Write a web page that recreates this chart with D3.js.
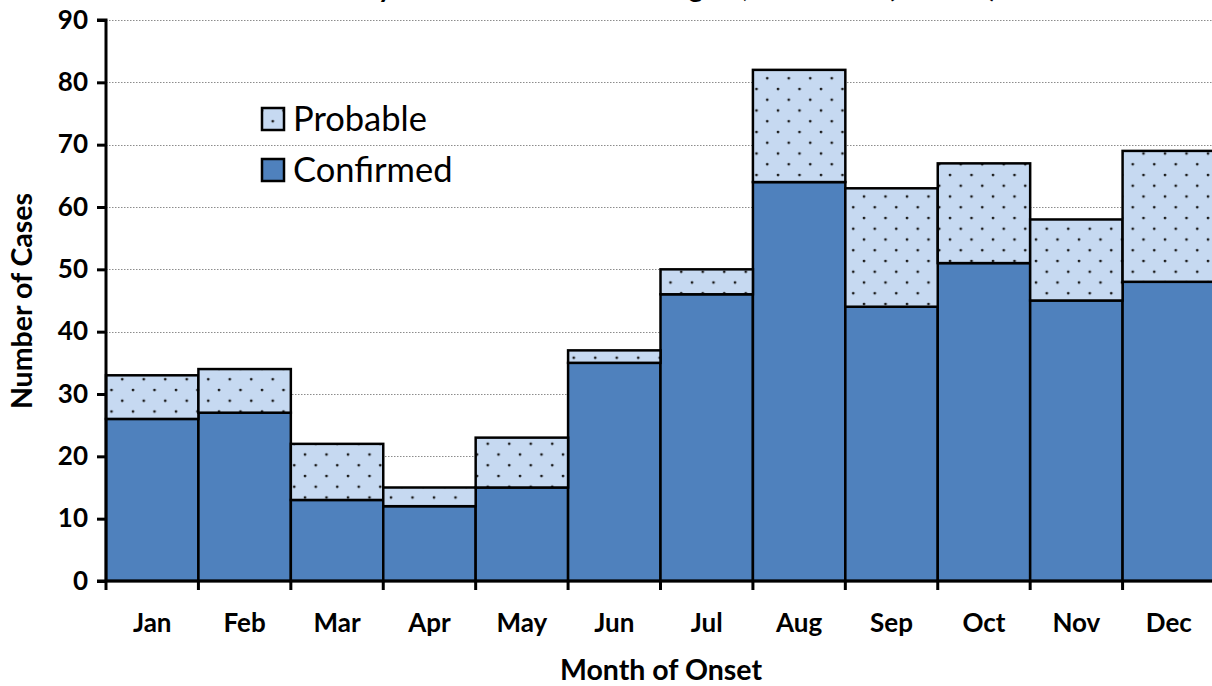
<!DOCTYPE html>
<html>
<head>
<meta charset="utf-8">
<script src="https://cdn.jsdelivr.net/npm/d3@7"></script>
<style>
  html, body { margin: 0; padding: 0; background: #fff; }
  svg { display: block; }
  text { font-family: Lato, "Liberation Sans", sans-serif; }
</style>
</head>
<body>
<svg id="chart" width="1212" height="686"></svg>
<script>
const months = ["Jan","Feb","Mar","Apr","May","Jun","Jul","Aug","Sep","Oct","Nov","Dec"];
const confirmed = [26, 27, 13, 12, 15, 35, 46, 64, 44, 51, 45, 48];
const probable  = [7, 7, 9, 3, 8, 2, 4, 18, 19, 16, 13, 21];
const yTicks = [0, 10, 20, 30, 40, 50, 60, 70, 80, 90];
const seriesNames = ["Probable", "Confirmed"];
const titleText = "Cases by Month of Onset and Region, Statewide (n = 553)";
const xTitle = "Month of Onset";
const yTitle = "Number of Cases";

const svg = d3.select("#chart");
const margin = { left: 106, right: -3, top: 20, bottom: 105 };
const W = 1212, H = 686;
const x0 = margin.left, x1 = W - margin.right;
const y0 = H - margin.bottom, y1 = margin.top;

const x = d3.scaleBand().domain(months).range([x0, x1]).paddingInner(0).paddingOuter(0);
const y = d3.scaleLinear().domain([0, 90]).range([y0, y1]);

// pattern
const defs = svg.append("defs");
const pat = defs.append("pattern").attr("id", "dots")
  .attr("patternUnits", "userSpaceOnUse")
  .attr("width", 21.5).attr("height", 21.5);
pat.append("rect").attr("width", 21.5).attr("height", 21.5).attr("fill", "#C6D9F1");
pat.append("circle").attr("cx", 4).attr("cy", 3).attr("r", 1.4).attr("fill", "#1a1a1a");
pat.append("circle").attr("cx", 14.75).attr("cy", 13.75).attr("r", 1.4).attr("fill", "#1a1a1a");

// title (mostly cut off at the top edge, as in the reference)
svg.append("text").attr("x", 640).attr("y", -3)
  .attr("text-anchor", "middle").attr("font-weight", "bold").attr("font-size", 28)
  .attr("fill", "#000").text(titleText);

// gridlines
svg.append("g").selectAll("line").data(yTicks.filter(d => d > 0)).join("line")
  .attr("x1", x0).attr("x2", W)
  .attr("y1", d => Math.round(y(d)) + 0.5).attr("y2", d => Math.round(y(d)) + 0.5)
  .attr("stroke", "#8c8c8c").attr("stroke-width", 1).attr("stroke-dasharray", "1.5,1.5");

// bars
const stackData = months.map((m, i) => ({ m, c: confirmed[i], p: probable[i] }));
const bars = svg.append("g");
bars.selectAll("rect.conf").data(stackData).join("rect").attr("class", "conf")
  .attr("x", d => x(d.m)).attr("width", x.bandwidth())
  .attr("y", d => y(d.c)).attr("height", d => y(0) - y(d.c))
  .attr("fill", "#4F81BD").attr("stroke", "#000").attr("stroke-width", 2.5);
bars.selectAll("rect.prob").data(stackData).join("rect").attr("class", "prob")
  .attr("x", d => x(d.m)).attr("width", x.bandwidth())
  .attr("y", d => y(d.c + d.p)).attr("height", d => y(d.c) - y(d.c + d.p))
  .attr("fill", "url(#dots)").attr("stroke", "#000").attr("stroke-width", 2.5);

// y axis
const yAxis = d3.axisLeft(y).tickValues(yTicks).tickSize(9).tickPadding(9).tickFormat(d3.format("d"));
const gy = svg.append("g").attr("transform", `translate(${x0},0)`).call(yAxis);
gy.select(".domain").attr("stroke", "#000").attr("stroke-width", 3).attr("d", `M-9,${y1}H0V${y0}`);
gy.selectAll(".tick line").attr("stroke", "#000").attr("stroke-width", 3);
gy.selectAll(".tick text").attr("font-size", 26).attr("font-weight", "bold").attr("fill", "#000")
  .attr("font-family", "Lato, sans-serif");

// x axis
const xAxis = d3.axisBottom(x).tickSize(0).tickPadding(33);
const gx = svg.append("g").attr("transform", `translate(0,${y0})`).call(xAxis);
gx.select(".domain").attr("stroke", "#000").attr("stroke-width", 3).attr("d", `M${x0 - 9},0H${W}`);
gx.selectAll(".tick text").attr("font-size", 26).attr("font-weight", "bold").attr("fill", "#000")
  .attr("font-family", "Lato, sans-serif").attr("dy", "0.71em");
// boundary tick marks
svg.append("g").selectAll("line").data(months.concat(["end"])).join("line")
  .attr("x1", (d, i) => x0 + i * x.step()).attr("x2", (d, i) => x0 + i * x.step())
  .attr("y1", y0).attr("y2", y0 + 9)
  .attr("stroke", "#000").attr("stroke-width", 3);

// axis titles
svg.append("text").attr("x", 661).attr("y", 680)
  .attr("text-anchor", "middle").attr("font-weight", "bold").attr("font-size", 28.5)
  .attr("fill", "#000").text(xTitle);
svg.append("text").attr("transform", `translate(32,301) rotate(-90)`)
  .attr("text-anchor", "middle").attr("font-weight", "bold").attr("font-size", 28.5)
  .attr("fill", "#000").text(yTitle);

// legend
const legend = svg.append("g");
const legY = [119, 170];
seriesNames.forEach((name, i) => {
  legend.append("rect").attr("x", 262).attr("y", legY[i] - 11).attr("width", 22).attr("height", 22)
    .attr("fill", i === 0 ? "url(#dots)" : "#4F81BD").attr("stroke", "#000").attr("stroke-width", 2.5);
  legend.append("text").attr("x", 293).attr("y", legY[i]).attr("dy", "0.35em")
    .attr("font-size", 34.5).attr("fill", "#000").text(name);
});
</script>
</body>
</html>
